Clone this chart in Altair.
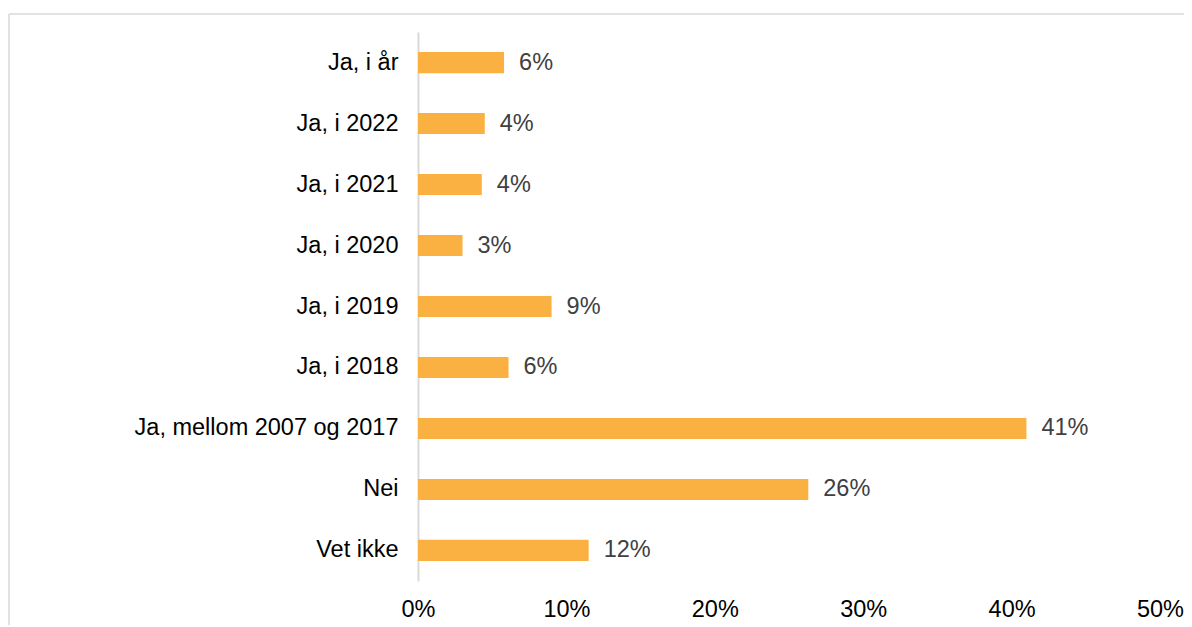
import altair as alt
import pandas as pd

categories = ["Ja, i år", "Ja, i 2022", "Ja, i 2021", "Ja, i 2020", "Ja, i 2019",
              "Ja, i 2018", "Ja, mellom 2007 og 2017", "Nei", "Vet ikke"]
values = [0.058, 0.045, 0.043, 0.030, 0.090, 0.061, 0.410, 0.263, 0.115]
labels = ["6%", "4%", "4%", "3%", "9%", "6%", "41%", "26%", "12%"]

df = pd.DataFrame({"cat": categories, "val": values, "lab": labels})

FONT = "Liberation Sans"
FS = 23.5

y = alt.Y("cat:N", sort=categories, title=None,
          scale=alt.Scale(paddingInner=0.655, paddingOuter=0.33),
          axis=alt.Axis(ticks=False, domainColor="#D9D9D9", domainWidth=2,
                        labelFont=FONT, labelFontSize=FS, labelColor="#000000",
                        labelFontWeight="normal",
                        labelPadding=20, labelLimit=400))
x = alt.X("val:Q", title=None,
          scale=alt.Scale(domain=[0, 0.5], nice=False, zero=True),
          axis=alt.Axis(format=".0%", values=[0, 0.1, 0.2, 0.3, 0.4, 0.5],
                        grid=False, domain=False, ticks=False,
                        labelFont=FONT, labelFontSize=FS, labelColor="#000000",
                        labelFontWeight="normal",
                        labelPadding=16, labelFlush=False))

bars = alt.Chart(df).mark_bar(color="#FBB142").encode(x=x, y=y)
text = alt.Chart(df).mark_text(align="left", dx=15, font=FONT, fontSize=FS,
                               color="#404040").encode(
    x=alt.X("val:Q"), y=alt.Y("cat:N", sort=categories), text="lab:N")

frame_df = pd.DataFrame({"k": [0]})
top_rule = alt.Chart(frame_df).mark_rule(color="#D9D9D9", strokeWidth=1.5).encode(
    x=alt.value(-409), x2=alt.value(800), y=alt.value(-18))
left_rule = alt.Chart(frame_df).mark_rule(color="#D9D9D9", strokeWidth=1.5).encode(
    x=alt.value(-409), y=alt.value(-18), y2=alt.value(620))

chart = alt.layer(top_rule, left_rule, bars, text).properties(
    width=742, height=549,
    autosize=alt.AutoSizeParams(type="none"),
    padding={"left": 410, "top": 24, "right": 24, "bottom": 44},
    background="#FFFFFF",
).configure_view(strokeWidth=0, stroke="transparent")

chart.save("out.html", embed_options={"renderer": "svg", "actions": False})
